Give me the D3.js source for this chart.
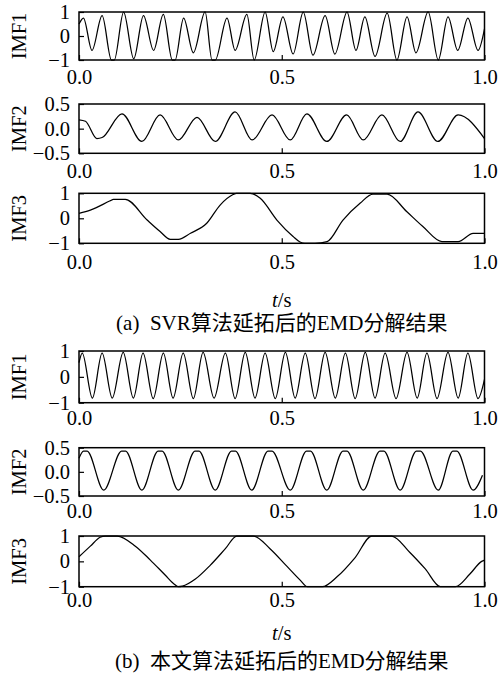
<!DOCTYPE html>
<html><head><meta charset="utf-8">
<script src="https://cdn.jsdelivr.net/npm/d3@7"></script>
<style>body{margin:0;background:#fff}svg{display:block}</style>
</head><body>
<svg id="c" width="500" height="681"></svg>
<script>
// ---------- data ----------
const xTicks = [0, 0.5, 1];
const xTickLabels = ["0.0", "0.5", "1.0"];
const imfNames = ["IMF1", "IMF2", "IMF3"];
const yTicks13 = [-1, 0, 1];
const yTickLabels13 = ["\u22121", "0", "1"];
const yTicks2 = [-0.5, 0, 0.5];
const yTickLabels2 = ["\u22120.5", "0.0", "0.5"];
const captions = ["(a)  SVR算法延拓后的EMD分解结果", "(b)  本文算法延拓后的EMD分解结果"];

// (a) SVR extension
const imf1aT = [0,0.011,0.032,0.057,0.080,0.087,0.110,0.135,0.159,0.184,0.208,0.230,0.237,0.258,0.282,0.311,0.328,0.336,0.365,0.385,0.414,0.432,0.459,0.479,0.503,0.528,0.553,0.577,0.607,0.631,0.661,0.683,0.705,0.730,0.760,0.784,0.809,0.831,0.861,0.886,0.910,0.934,0.959,0.984,1.0];
const imf1aV = [0.5,0.75,-0.6,0.85,-1,-1,1,-0.95,0.85,-0.6,0.9,-1,-1,0.75,-0.7,1,-1,-1,0.75,-0.6,0.9,-1,1,-0.65,0.8,-0.75,1,-0.8,0.85,-0.75,1,-0.6,0.8,-0.85,0.95,-1,0.8,-0.7,1,-1,0.8,-0.6,0.75,-0.6,0.3];
const imf2aT = [0,0.016,0.044,0.057,0.106,0.155,0.200,0.245,0.291,0.336,0.385,0.427,0.476,0.521,0.562,0.611,0.660,0.701,0.747,0.792,0.836,0.885,0.935,1.0];
const imf2aV = [0.18,0.15,-0.2,-0.18,0.3,-0.26,0.28,-0.23,0.23,-0.26,0.34,-0.23,0.28,-0.23,0.3,-0.26,0.28,-0.23,0.28,-0.26,0.34,-0.26,0.28,-0.2];
const imf3aT = [0,0.028,0.077,0.085,0.114,0.168,0.200,0.225,0.245,0.275,0.315,0.348,0.380,0.388,0.422,0.447,0.488,0.528,0.545,0.557,0.582,0.612,0.651,0.693,0.725,0.760,0.808,0.848,0.895,0.935,0.972,1.0];
const imf3aV = [0.2,0.33,0.7,0.76,0.76,-0.07,-0.53,-0.84,-0.84,-0.6,-0.2,0.53,0.95,1,1,0.8,-0.07,-0.73,-0.95,-1,-1,-0.93,-0.07,0.6,0.97,0.97,0.27,-0.33,-0.93,-0.93,-0.6,-0.6];

// (b) proposed extension
const imf1bT = [0,0.008,0.033,0.057,0.082,0.109,0.134,0.158,0.183,0.208,0.232,0.257,0.282,0.306,0.333,0.361,0.385,0.410,0.434,0.459,0.484,0.509,0.533,0.558,0.582,0.607,0.632,0.657,0.681,0.706,0.730,0.755,0.782,0.809,0.834,0.858,0.883,0.910,0.935,0.959,0.984,1.0];
const imf1bV = [0.55,0.92,-0.82,0.92,-0.82,0.95,-0.82,0.92,-0.84,0.92,-0.82,0.92,-0.84,0.95,-0.82,0.92,-0.84,0.95,-0.82,0.92,-0.84,0.95,-0.82,0.92,-0.84,0.95,-0.82,0.92,-0.84,0.95,-0.82,0.92,-0.84,0.95,-0.82,0.92,-0.84,0.95,-0.82,0.92,-0.84,-0.1];
const imf2bT = [0,0.011,0.020,0.061,0.105,0.115,0.155,0.195,0.205,0.245,0.286,0.296,0.336,0.376,0.386,0.426,0.466,0.476,0.521,0.561,0.571,0.611,0.651,0.661,0.701,0.742,0.752,0.792,0.832,0.842,0.886,0.922,0.932,0.972,0.995];
const imf2bV = [0.28,0.43,0.43,-0.38,0.43,0.43,-0.38,0.43,0.43,-0.38,0.43,0.43,-0.38,0.43,0.43,-0.38,0.43,0.43,-0.38,0.43,0.43,-0.38,0.43,0.43,-0.38,0.43,0.43,-0.38,0.43,0.43,-0.38,0.43,0.43,-0.38,-0.07];
const imf3bT = [0,0.028,0.052,0.065,0.094,0.139,0.176,0.213,0.235,0.245,0.255,0.287,0.324,0.361,0.389,0.430,0.471,0.513,0.546,0.563,0.600,0.637,0.681,0.722,0.771,0.816,0.854,0.891,0.928,0.964,0.993,1.0];
const imf3bV = [0.18,0.6,0.95,1,1,0.6,0.05,-0.55,-0.9,-1,-0.98,-0.7,-0.15,0.5,1,1,0.5,-0.2,-0.75,-1,-1,-0.6,0.15,1,1,0.35,-0.3,-1,-1,-0.5,0,0.05];

// ---------- layout ----------
const svg = d3.select("#c");
const left = 79, right = 484.5;
const x = d3.scaleLinear().domain([0, 1]).range([left, right]);
const FONT = "'Liberation Serif','Times New Roman',serif";
const FS = 20.5;

const panels = [
  {top: 12,    bottom: 60,    name: 0, t: imf1aT, v: imf1aV, pad: 9.4},
  {top: 104,   bottom: 153.3, name: 1, t: imf2aT, v: imf2aV, pad: 10},
  {top: 193.3, bottom: 243.3, name: 2, t: imf3aT, v: imf3aV, pad: 11},
  {top: 351,   bottom: 402.7, name: 0, t: imf1bT, v: imf1bV, pad: 7.7},
  {top: 447.7, bottom: 496,   name: 1, t: imf2bT, v: imf2bV, pad: 7.4},
  {top: 536,   bottom: 586.7, name: 2, t: imf3bT, v: imf3bV, pad: 5.8}
];

panels.forEach(p => {
  const isMid = p.name === 1;
  const y = d3.scaleLinear().domain(isMid ? [-0.5, 0.5] : [-1, 1]).range([p.bottom, p.top]);
  const g = svg.append("g");
  const yt = isMid ? yTicks2 : yTicks13;
  const yl = isMid ? yTickLabels2 : yTickLabels13;

  // data line
  const data = p.t.map((t, i) => [t, p.v[i]]);
  g.append("path").datum(data)
    .attr("fill", "none").attr("stroke", "#000").attr("stroke-width", 1.25)
    .attr("stroke-linejoin", "round")
    .attr("d", d3.line().x(d => x(d[0])).y(d => y(d[1])).curve(d3.curveMonotoneX));

  // y axis
  const ya = g.append("g").attr("transform", `translate(${left},0)`)
    .call(d3.axisLeft(y).tickValues(yt).tickSize(-5).tickPadding(9)
      .tickFormat((d, i) => yl[i]));
  ya.select(".domain").remove();
  ya.selectAll("line").attr("stroke", "#000").attr("stroke-width", 1.2);
  ya.selectAll("text").attr("font-family", FONT).attr("font-size", FS).attr("fill", "#000");

  // x axis
  const xa = g.append("g").attr("transform", `translate(0,${p.bottom})`)
    .call(d3.axisBottom(x).tickValues(xTicks).tickSize(-5).tickPadding(p.pad)
      .tickFormat((d, i) => xTickLabels[i]));
  xa.select(".domain").remove();
  xa.selectAll("line").attr("stroke", "#000").attr("stroke-width", 1.2);
  xa.selectAll("text").attr("font-family", FONT).attr("font-size", FS).attr("fill", "#000");

  // frame
  g.append("rect").attr("x", left).attr("y", p.top)
    .attr("width", right - left).attr("height", p.bottom - p.top)
    .attr("fill", "none").attr("stroke", "#000").attr("stroke-width", 1.5);

  // y label
  g.append("text")
    .attr("transform", `translate(19,${(p.top + p.bottom) / 2}) rotate(-90)`)
    .attr("text-anchor", "middle").attr("dominant-baseline", "central")
    .attr("font-family", FONT).attr("font-size", FS).text(imfNames[p.name]);
});

// x titles and captions
const cx = (left + right) / 2;
[{ty: 300, cy: 323, cap: captions[0]}, {ty: 633, cy: 661, cap: captions[1]}].forEach(s => {
  const tt = svg.append("text").attr("x", cx).attr("y", s.ty)
    .attr("text-anchor", "middle").attr("dominant-baseline", "central")
    .attr("font-family", FONT).attr("font-size", FS);
  tt.append("tspan").attr("font-style", "italic").text("t");
  tt.append("tspan").text("/s");
  svg.append("text").attr("x", cx).attr("y", s.cy)
    .attr("text-anchor", "middle").attr("dominant-baseline", "central")
    .attr("font-family", "'Liberation Serif','Noto Sans CJK SC',serif")
    .attr("font-size", 21).style("white-space", "pre")
    .text(s.cap);
});
</script>
</body></html>
